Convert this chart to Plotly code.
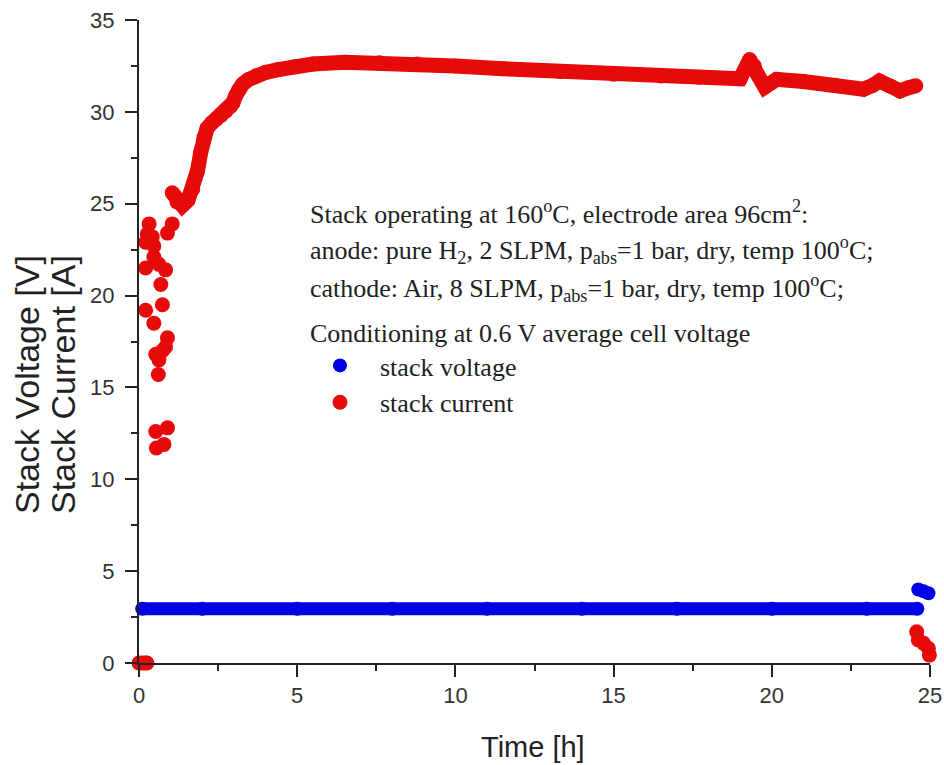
import plotly.graph_objects as go

# ---------------- data ----------------
# stack voltage [V]
volt_start_t = [0.0]
volt_start_v = [0.0]
volt_run_t = [0.1, 2.0, 5.0, 8.0, 11.0, 14.0, 17.0, 20.0, 23.0, 24.6]
volt_run_v = [2.95, 2.95, 2.95, 2.95, 2.95, 2.95, 2.95, 2.95, 2.95, 2.95]
volt_end_t = [24.63, 24.8, 24.95]
volt_end_v = [4.0, 3.9, 3.8]

# stack current [A]
curr_zero_t = [0.0, 0.1, 0.2, 0.25]
curr_zero_v = [0.0, 0.0, 0.0, 0.0]
curr_scatter_t = [0.32, 0.26, 0.21, 0.42, 0.47, 1.05, 0.9, 0.21, 0.47, 0.63, 0.84,
                  0.69, 0.74, 0.21, 0.47, 0.9, 0.84, 0.53, 0.63, 0.74, 0.61,
                  0.9, 0.53, 0.79, 0.55]
curr_scatter_v = [23.9, 23.35, 22.9, 23.2, 22.7, 23.9, 23.4, 21.5, 22.1, 21.7, 21.4,
                  20.6, 19.5, 19.2, 18.5, 17.7, 17.2, 16.8, 16.5, 17.0, 15.7,
                  12.8, 12.6, 11.9, 11.7]
curr_run_t = [1.05, 1.2, 1.37, 1.55, 1.7, 1.85, 1.95, 2.05, 2.15, 2.3, 2.45, 2.6,
              2.75, 2.9, 2.97, 3.06, 3.15, 3.27, 3.45, 3.7, 4.0, 4.4, 4.9, 5.5,
              6.5, 7.6, 8.8, 10.0, 11.5, 13.3, 15.0, 16.5, 17.7, 19.0, 19.3,
              19.45, 19.56, 19.78, 20.0, 20.15, 21.0, 22.0, 22.9, 23.2, 23.4,
              23.75, 24.05, 24.3, 24.55]
curr_run_v = [25.6, 25.1, 24.9, 25.2, 25.8, 26.8, 27.8, 28.6, 29.1, 29.4, 29.6, 29.8,
              30.05, 30.3, 30.5, 30.9, 31.2, 31.5, 31.75, 31.96, 32.15, 32.3, 32.45, 32.6,
              32.7, 32.67, 32.6, 32.5, 32.35, 32.2, 32.05, 31.95, 31.88, 31.8, 32.85,
              32.5, 32.0, 31.35, 31.6, 31.77, 31.65, 31.45, 31.23, 31.45, 31.68,
              31.4, 31.14, 31.3, 31.42]
curr_end_t = [24.58, 24.63, 24.8, 24.95, 24.98]
curr_end_v = [1.7, 1.25, 1.07, 0.8, 0.43]

x_ticks = [0, 5, 10, 15, 20, 25]
y_ticks = [0, 5, 10, 15, 20, 25, 30, 35]

note_lines = [
    "Stack operating at 160<sup>o</sup>C, electrode area 96cm<sup>2</sup>:",
    "anode: pure H<sub>2</sub>, 2 SLPM, p<sub>abs</sub>=1 bar, dry, temp 100<sup>o</sup>C;",
    "cathode: Air, 8 SLPM, p<sub>abs</sub>=1 bar, dry, temp 100<sup>o</sup>C;",
    "Conditioning at 0.6 V average cell voltage",
]
y_title_lines = ["Stack Voltage [V]", "Stack Current [A]"]
x_title = "Time [h]"

# ---------------- styling ----------------
W, H = 944, 765
L, R, T, B = 139, 14, 20, 102
BLUE = "#0000e6"
RED = "#e60a0a"

def px_x(px):
    return (px - L) / (W - L - R)

def px_y(py):
    return (H - B - py) / (H - B - T)

fig = go.Figure()

# voltage
fig.add_trace(go.Scatter(x=volt_run_t, y=volt_run_v, mode="lines",
                         line=dict(color=BLUE, width=13), showlegend=False,
                         hoverinfo="skip", cliponaxis=False))
fig.add_trace(go.Scatter(x=volt_start_t + volt_run_t + volt_end_t,
                         y=volt_start_v + volt_run_v + volt_end_v,
                         mode="markers", name="stack voltage",
                         marker=dict(color=BLUE, size=14), cliponaxis=False))
# current
fig.add_trace(go.Scatter(x=curr_run_t, y=curr_run_v, mode="lines",
                         line=dict(color=RED, width=15), showlegend=False,
                         hoverinfo="skip", cliponaxis=False))
fig.add_trace(go.Scatter(x=curr_zero_t + curr_scatter_t + curr_run_t + curr_end_t,
                         y=curr_zero_v + curr_scatter_v + curr_run_v + curr_end_v,
                         mode="markers", name="stack current",
                         marker=dict(color=RED, size=15), cliponaxis=False))

axis_common = dict(
    showline=True, linecolor="#222", linewidth=2,
    ticks="outside", ticklen=12, tickwidth=2, tickcolor="#222",
    showgrid=False, zeroline=False,
    tickfont=dict(family="Liberation Sans, Arial", size=22, color="#333"),
    minor=dict(ticks="outside", ticklen=6, tickwidth=2, tickcolor="#222", showgrid=False),
)

fig.update_xaxes(range=[0, 25], tickvals=x_ticks, minor_dtick=2.5, **axis_common)
fig.update_yaxes(range=[0, 35], tickvals=y_ticks, minor_dtick=2.5,
                 ticklabelstandoff=6, **axis_common)

annots = []
note_y = [212, 250, 288, 333]
for txt, yy in zip(note_lines, note_y):
    annots.append(dict(text=txt, xref="paper", yref="paper", x=px_x(308), y=px_y(yy),
                       xanchor="left", yanchor="middle", showarrow=False,
                       font=dict(family="Liberation Serif, Times New Roman", size=26,
                                 color="#222")))
annots.append(dict(text=x_title, xref="paper", yref="paper", x=px_x(533), y=px_y(747),
                   xanchor="center", yanchor="middle", showarrow=False,
                   font=dict(family="Liberation Sans, Arial", size=29, color="#222")))
for txt, xx in zip(y_title_lines, [27, 63]):
    annots.append(dict(text=txt, xref="paper", yref="paper",
                       x=px_x(xx), y=px_y(385), xanchor="center", yanchor="middle",
                       textangle=-90, showarrow=False,
                       font=dict(family="Liberation Sans, Arial", size=34, color="#222")))

fig.update_layout(
    width=W, height=H,
    margin=dict(l=L, r=R, t=T, b=B, autoexpand=False),
    paper_bgcolor="white", plot_bgcolor="white",
    annotations=annots,
    legend=dict(x=px_x(300), y=px_y(342), xanchor="left", yanchor="top",
                itemwidth=70, bgcolor="rgba(0,0,0,0)",
                font=dict(family="Liberation Serif, Times New Roman", size=26, color="#222")),
)

fig.write_html("out.html")
